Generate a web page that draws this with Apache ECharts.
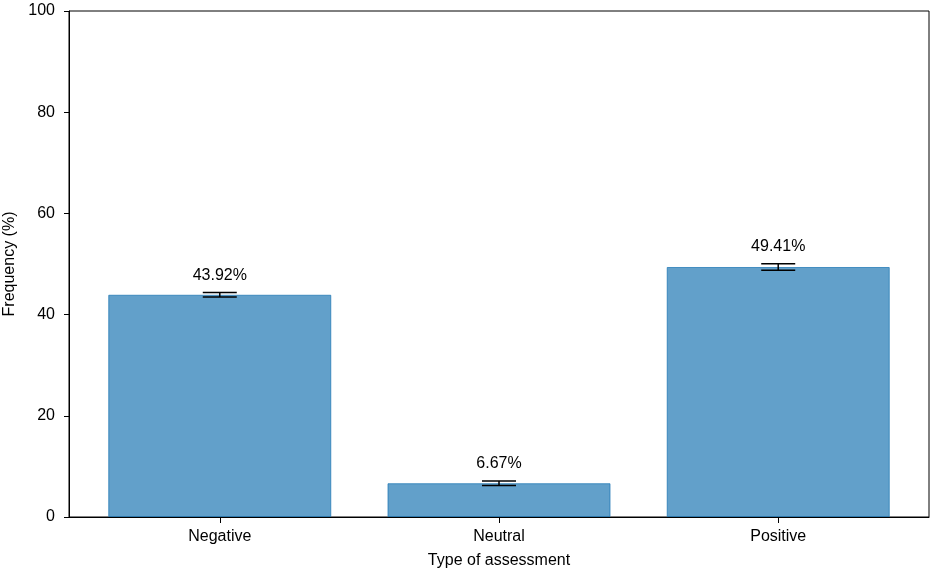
<!DOCTYPE html>
<html>
<head>
<meta charset="utf-8">
<script src="https://cdn.jsdelivr.net/npm/echarts@6/dist/echarts.min.js"></script>
<style>
  html, body { margin: 0; padding: 0; background: #fff; }
  #chart { width: 935px; height: 572px; }
</style>
</head>
<body>
<div id="chart"></div>
<script>
// data
const categories = ['Negative', 'Neutral', 'Positive']
const frequency = [43.92, 6.67, 49.41]
const errors = [0.46, 0.46, 0.65]
const yTicks = [0, 20, 40, 60, 80, 100]

const font = "'Liberation Sans', Arial, sans-serif"
const barData = frequency.map((v, i) => [i, v])
const errData = frequency.map((v, i) => [i, v, errors[i]])

const chart = echarts.init(document.getElementById('chart'), null, { renderer: 'canvas' })

chart.setOption({
  animation: false,
  textStyle: { fontFamily: font },
  grid: {
    left: 69,
    right: 6,
    top: 11,
    bottom: 55,
    containLabel: false,
    outerBoundsMode: 'none',
    show: true,
    borderColor: '#000',
    borderWidth: 1,
    backgroundColor: 'transparent'
  },
  xAxis: {
    type: 'value',
    min: -0.54,
    max: 2.54,
    name: 'Type of assessment',
    nameLocation: 'middle',
    nameGap: 36,
    nameTextStyle: { fontSize: 16, color: '#000', fontFamily: font },
    axisLine: { show: true, onZero: false, lineStyle: { color: '#000', width: 1 } },
    axisTick: { show: true, customValues: [0, 1, 2], length: 6, lineStyle: { color: '#000' } },
    axisLabel: {
      customValues: [0, 1, 2],
      formatter: v => categories[Math.round(v)],
      fontSize: 16,
      color: '#000',
      margin: 12,
      fontFamily: font
    },
    splitLine: { show: false }
  },
  yAxis: {
    type: 'value',
    min: yTicks[0],
    max: yTicks[yTicks.length - 1],
    interval: yTicks[1] - yTicks[0],
    name: 'Frequency (%)',
    nameLocation: 'middle',
    nameGap: 48,
    nameTextStyle: { fontSize: 16, color: '#000', fontFamily: font },
    axisLine: { show: true, onZero: false, lineStyle: { color: '#000', width: 1 } },
    axisTick: { show: true, length: 5, lineStyle: { color: '#000' } },
    axisLabel: { fontSize: 16, color: '#000', margin: 14, fontFamily: font },
    splitLine: { show: false }
  },
  series: [
    {
      type: 'bar',
      data: barData,
      barWidth: 223,
      itemStyle: {
        color: 'rgba(31,119,180,0.7)',
        borderColor: 'rgba(31,119,180,0.75)',
        borderWidth: 1
      }
    },
    {
      // error bars plus the percentage labels above them
      type: 'custom',
      data: errData,
      z: 10,
      renderItem: function (params, api) {
        const x = api.value(0)
        const v = api.value(1)
        const e = api.value(2)
        const top = api.coord([x, v + e])
        const bot = api.coord([x, v - e])
        const half = 17
        const style = { stroke: '#000', lineWidth: 1.5 }
        return {
          type: 'group',
          children: [
            { type: 'line', shape: { x1: top[0], y1: top[1], x2: bot[0], y2: bot[1] }, style },
            { type: 'line', shape: { x1: top[0] - half, y1: top[1], x2: top[0] + half, y2: top[1] }, style },
            { type: 'line', shape: { x1: bot[0] - half, y1: bot[1], x2: bot[0] + half, y2: bot[1] }, style },
            {
              type: 'text',
              x: top[0],
              y: top[1] - 17,
              style: {
                text: v.toFixed(2) + '%',
                fill: '#000',
                font: '16px ' + font,
                textAlign: 'center',
                textVerticalAlign: 'middle'
              }
            }
          ]
        }
      }
    }
  ]
})
</script>
</body>
</html>
